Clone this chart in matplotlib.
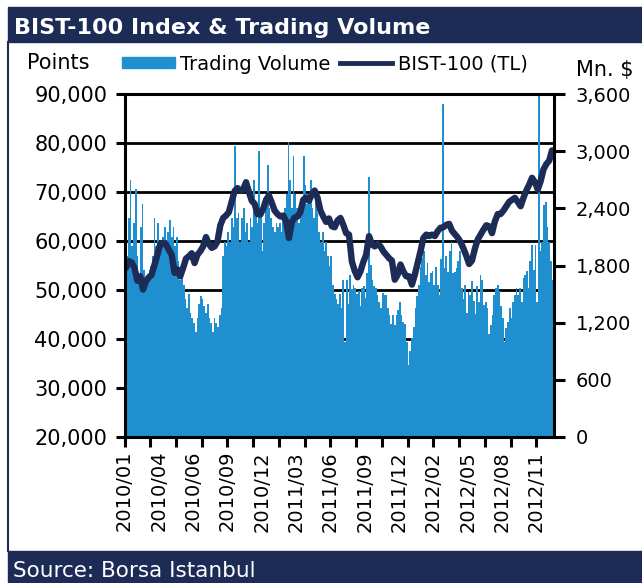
import numpy as np
import matplotlib.pyplot as plt
from matplotlib.patches import Rectangle, Patch
from matplotlib.lines import Line2D

NAVY = '#1d2b57'
BLUE = '#1f8fcf'

tick_labels = ['2010/01', '2010/04', '2010/06', '2010/09', '2010/12', '2011/03',
               '2011/06', '2011/09', '2011/12', '2012/02', '2012/05', '2012/08',
               '2012/11']

# BIST-100 close, one reading per week (points)
bist100 = [
    54500, 55900, 55600, 54500, 51900, 52800, 50100, 51800, 52600, 53100,
    55200, 57200, 59400, 59600, 59300, 58200, 57200, 53500, 54200, 52800,
    54500, 56400, 56900, 57500, 55500, 57200, 57900, 58900, 60800, 59400,
    58600, 58900, 59900, 63200, 64700, 65200, 65900, 68100, 70200, 70800,
    70300, 70500, 72000, 70000, 68200, 67600, 65500, 65400, 66600, 68400,
    69300, 67800, 66200, 65500, 65000, 65200, 64000, 60600, 63900, 64800,
    65000, 65900, 68400, 68900, 68200, 69600, 70300, 68800, 66200, 65000,
    63900, 64600, 63000, 62800, 64200, 64700, 63300, 61600, 61300, 55800,
    53900, 52600, 53800, 55700, 57200, 61000, 59300, 58900, 59400, 58900,
    57900, 57200, 56500, 56000, 52100, 53100, 55200, 53800, 52800, 52800,
    51100, 53100, 55500, 57900, 60600, 61300, 61000, 61300, 61000, 62000,
    62700, 62800, 63300, 63500, 62100, 61400, 60700, 59800, 58500, 57000,
    55300, 56000, 58400, 60300, 61300, 62300, 63200, 63000, 61600, 64000,
    65500, 65500, 66200, 67100, 68000, 68400, 68800, 68000, 67100, 68800,
    70300, 71500, 72900, 72000, 70500, 72200, 74600, 75700, 76400, 78500,
]

# trading volume, one reading per 3 trading days (Mn. $)
volume = [
    2200, 1900, 2300, 2700, 2000, 2250, 2600, 1900, 1700, 2200,
    2450, 1750, 1650, 1700, 1750, 1800, 1900, 2300, 2000, 2250,
    1950, 2050, 2100, 2200, 2050, 2150, 2280, 2100, 2200, 2000,
    2100, 1850, 1650, 1700, 1600, 1450, 1350, 1500, 1300, 1250,
    1200, 1100, 1250, 1400, 1480, 1450, 1380, 1300, 1400, 1250,
    1200, 1100, 1250, 1200, 1150, 1280, 1350, 1900, 2050, 2000,
    2150, 2050, 2300, 2200, 3050, 2300,
    2350, 2050, 2300, 2400, 2150, 2250, 2050, 2300, 2200, 2700,
    2350, 2250, 3000, 2350, 1950, 2250, 2500, 2850, 2400, 2300,
    2200, 2150, 2250, 2200, 2250, 2150, 2300, 2400, 2550, 3100,
    2700, 2400, 2950, 2550, 2400, 2250, 2350, 2500, 2950, 2650,
    2450, 2550, 2700, 2400, 2300, 2600, 2350, 2150, 2050, 2150,
    1950, 2050, 1900, 1800, 1900, 1600, 1500, 1450, 1400, 1500,
    1350, 1650, 1000, 1650, 1400, 1700, 1550,
    1600, 1560, 1500, 1530, 1380, 1560, 1580, 1460, 1720, 2730,
    1810, 1650, 1590, 1560, 1490, 1420, 1350, 1510, 1490, 1490,
    1350, 1280, 1190, 1280, 1180, 1280, 1330, 1420, 1280, 1210,
    1190, 1000, 760, 900, 1040, 1150, 1350, 1480, 1600, 1780,
    1880, 1950, 1700, 1830, 1630, 1720, 1740, 1600, 1780, 1600,
    1490, 1870, 3500, 1770, 1900, 1730, 1950, 2050, 1720, 1730,
    1770,
    1850, 1950, 1560, 1450, 1600, 1300, 1520, 1490, 1640, 1430,
    1290, 1590, 1420, 1700, 1650, 1390, 1420, 1350, 1080, 1180,
    1280, 1490, 1560, 1600, 1530, 1380, 1250, 1000, 1140, 1210,
    1350, 1250, 1420, 1490, 1560, 1490, 1560, 1420, 1670, 1700,
    1740, 1560, 1850, 2020, 1750, 2010, 1420, 3600, 1950, 2050,
    2430, 2470, 2200, 2050, 1850, 1650,
]

# x axis runs in trading days
idx_step, vol_step = 5, 3
n_days = len(bist100) * idx_step
x_idx = np.arange(len(bist100)) * idx_step + idx_step / 2
x_vol = np.arange(len(volume)) * vol_step + vol_step / 2

W, H = 642, 583
fig = plt.figure(figsize=(W / 100, H / 100), dpi=100)
plt.rcParams['font.family'] = 'DejaVu Sans'
FS = 14

ax = fig.add_axes([124.5 / W, 1 - 437 / H, 429 / W, 343 / H])
axv = ax.twinx()
axl = ax.twinx()

# grid + left axis
ax.set_xlim(0, n_days)
ax.set_ylim(20000, 90000)
ax.set_yticks(range(20000, 90001, 10000))
ax.set_yticklabels([f'{v:,}' for v in range(20000, 90001, 10000)])
ax.grid(axis='y', color='black', lw=2.0)
ax.set_axisbelow(True)
ax.tick_params(axis='y', direction='out', length=6.5, width=2.2, pad=6, labelsize=15)
ax.set_xticks(np.arange(0, 60 * len(tick_labels), 60))
ax.set_xticklabels(tick_labels, rotation=90)
ax.set_xticks(np.arange(0, 721, 45), minor=True)
ax.xaxis.remove_overlapping_locs = False
ax.tick_params(axis='x', which='major', length=0, pad=10, labelsize=FS)
ax.tick_params(axis='x', which='minor', direction='out', length=7, width=2.2)
for s in ax.spines.values():
    s.set_visible(False)

# volume bars on the right scale
axv.bar(x_vol, volume, width=vol_step, color=BLUE, linewidth=0, antialiased=False)
axv.set_ylim(0, 3600)
axv.set_yticks(range(0, 3601, 600))
axv.set_yticklabels([f'{v:,}' for v in range(0, 3601, 600)])
axv.tick_params(axis='y', direction='out', length=8, width=2.2, pad=8, labelsize=FS)
for s in axv.spines.values():
    s.set_visible(False)

# index line on top
axl.plot(x_idx, bist100, color=NAVY, lw=4.6, solid_capstyle='round',
         solid_joinstyle='round')
axl.set_ylim(20000, 90000)
axl.set_yticks([])
axl.set_xlim(0, n_days)
for s in axl.spines.values():
    s.set_color('black')
    s.set_linewidth(2.2)

# frame, banners, texts
fig.add_artist(Rectangle((8 / W, 1 - 42 / H), 1, 35 / H, transform=fig.transFigure,
                         color=NAVY, zorder=0))
fig.add_artist(Rectangle((8 / W, 0), 1, 32 / H, transform=fig.transFigure,
                         color=NAVY, zorder=0))
fig.add_artist(Line2D([8 / W, 8 / W], [32 / H, 1 - 42 / H], transform=fig.transFigure,
                      color=NAVY, lw=1.5))
fig.text(14 / W, 1 - 27.5 / H, 'BIST-100 Index & Trading Volume', color='white',
         fontsize=16, fontweight='bold', va='center', ha='left')
fig.text(13 / W, 1 - 571 / H, 'Source: Borsa Istanbul', color='white',
         fontsize=15.5, va='center', ha='left')
fig.text(27 / W, 1 - 63 / H, 'Points', fontsize=15, va='center', ha='left')
fig.text(576 / W, 1 - 70 / H, 'Mn. $', fontsize=15, va='center', ha='left')

handles = [Patch(color=BLUE), Line2D([], [], color=NAVY, lw=3.5)]
fig.legend(handles, ['Trading Volume', 'BIST-100 (TL)'], loc='center',
           bbox_to_anchor=(325 / W, 1 - 64 / H), ncol=2, frameon=False,
           fontsize=FS, handlelength=2.7, handleheight=0.55, handletextpad=0.3,
           columnspacing=0.45, borderpad=0, borderaxespad=0)

fig.savefig('out.png', dpi=100)
